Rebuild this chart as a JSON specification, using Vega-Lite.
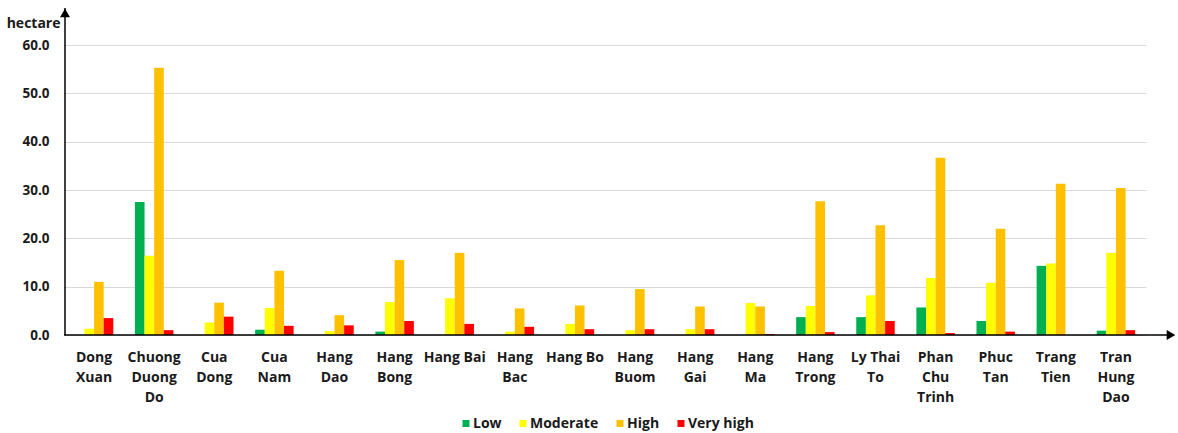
{
  "$schema": "https://vega.github.io/schema/vega-lite/v6.json",
  "autosize": "none",
  "padding": {"left": 64, "top": 8, "right": 32, "bottom": 98},
  "width": 1082,
  "height": 327,
  "background": "#ffffff",
  "config": {
    "font": "Open Sans",
    "view": {"stroke": null},
    "axis": {"labelColor": "#1a1a1a", "titleColor": "#1a1a1a"},
    "legend": {"labelColor": "#1a1a1a"}
  },
  "data": {
    "values": [
      {"ward": "Dong Xuan", "level": "Low", "ha": 0},
      {"ward": "Dong Xuan", "level": "Moderate", "ha": 1.3},
      {"ward": "Dong Xuan", "level": "High", "ha": 11.0},
      {"ward": "Dong Xuan", "level": "Very high", "ha": 3.5},
      {"ward": "Chuong Duong Do", "level": "Low", "ha": 27.5},
      {"ward": "Chuong Duong Do", "level": "Moderate", "ha": 16.4},
      {"ward": "Chuong Duong Do", "level": "High", "ha": 55.3},
      {"ward": "Chuong Duong Do", "level": "Very high", "ha": 1.0},
      {"ward": "Cua Dong", "level": "Low", "ha": 0},
      {"ward": "Cua Dong", "level": "Moderate", "ha": 2.6},
      {"ward": "Cua Dong", "level": "High", "ha": 6.7},
      {"ward": "Cua Dong", "level": "Very high", "ha": 3.8},
      {"ward": "Cua Nam", "level": "Low", "ha": 1.1},
      {"ward": "Cua Nam", "level": "Moderate", "ha": 5.6},
      {"ward": "Cua Nam", "level": "High", "ha": 13.3},
      {"ward": "Cua Nam", "level": "Very high", "ha": 1.9},
      {"ward": "Hang Dao", "level": "Low", "ha": 0},
      {"ward": "Hang Dao", "level": "Moderate", "ha": 0.8},
      {"ward": "Hang Dao", "level": "High", "ha": 4.1},
      {"ward": "Hang Dao", "level": "Very high", "ha": 2.0},
      {"ward": "Hang Bong", "level": "Low", "ha": 0.7},
      {"ward": "Hang Bong", "level": "Moderate", "ha": 6.8},
      {"ward": "Hang Bong", "level": "High", "ha": 15.5},
      {"ward": "Hang Bong", "level": "Very high", "ha": 2.9},
      {"ward": "Hang Bai", "level": "Low", "ha": 0},
      {"ward": "Hang Bai", "level": "Moderate", "ha": 7.6},
      {"ward": "Hang Bai", "level": "High", "ha": 17.0},
      {"ward": "Hang Bai", "level": "Very high", "ha": 2.3},
      {"ward": "Hang Bac", "level": "Low", "ha": 0},
      {"ward": "Hang Bac", "level": "Moderate", "ha": 0.7},
      {"ward": "Hang Bac", "level": "High", "ha": 5.5},
      {"ward": "Hang Bac", "level": "Very high", "ha": 1.7},
      {"ward": "Hang Bo", "level": "Low", "ha": 0},
      {"ward": "Hang Bo", "level": "Moderate", "ha": 2.3},
      {"ward": "Hang Bo", "level": "High", "ha": 6.1},
      {"ward": "Hang Bo", "level": "Very high", "ha": 1.2},
      {"ward": "Hang Buom", "level": "Low", "ha": 0},
      {"ward": "Hang Buom", "level": "Moderate", "ha": 1.0},
      {"ward": "Hang Buom", "level": "High", "ha": 9.5},
      {"ward": "Hang Buom", "level": "Very high", "ha": 1.2},
      {"ward": "Hang Gai", "level": "Low", "ha": 0},
      {"ward": "Hang Gai", "level": "Moderate", "ha": 1.2},
      {"ward": "Hang Gai", "level": "High", "ha": 5.9},
      {"ward": "Hang Gai", "level": "Very high", "ha": 1.2},
      {"ward": "Hang Ma", "level": "Low", "ha": 0},
      {"ward": "Hang Ma", "level": "Moderate", "ha": 6.6},
      {"ward": "Hang Ma", "level": "High", "ha": 5.9},
      {"ward": "Hang Ma", "level": "Very high", "ha": 0.2},
      {"ward": "Hang Trong", "level": "Low", "ha": 3.7},
      {"ward": "Hang Trong", "level": "Moderate", "ha": 6.0},
      {"ward": "Hang Trong", "level": "High", "ha": 27.7},
      {"ward": "Hang Trong", "level": "Very high", "ha": 0.6},
      {"ward": "Ly Thai To", "level": "Low", "ha": 3.7},
      {"ward": "Ly Thai To", "level": "Moderate", "ha": 8.2},
      {"ward": "Ly Thai To", "level": "High", "ha": 22.7},
      {"ward": "Ly Thai To", "level": "Very high", "ha": 2.9},
      {"ward": "Phan Chu Trinh", "level": "Low", "ha": 5.7},
      {"ward": "Phan Chu Trinh", "level": "Moderate", "ha": 11.8},
      {"ward": "Phan Chu Trinh", "level": "High", "ha": 36.7},
      {"ward": "Phan Chu Trinh", "level": "Very high", "ha": 0.4},
      {"ward": "Phuc Tan", "level": "Low", "ha": 2.9},
      {"ward": "Phuc Tan", "level": "Moderate", "ha": 10.8},
      {"ward": "Phuc Tan", "level": "High", "ha": 22.0},
      {"ward": "Phuc Tan", "level": "Very high", "ha": 0.7},
      {"ward": "Trang Tien", "level": "Low", "ha": 14.3},
      {"ward": "Trang Tien", "level": "Moderate", "ha": 14.8},
      {"ward": "Trang Tien", "level": "High", "ha": 31.3},
      {"ward": "Trang Tien", "level": "Very high", "ha": 0},
      {"ward": "Tran Hung Dao", "level": "Low", "ha": 0.9},
      {"ward": "Tran Hung Dao", "level": "Moderate", "ha": 17.0},
      {"ward": "Tran Hung Dao", "level": "High", "ha": 30.4},
      {"ward": "Tran Hung Dao", "level": "Very high", "ha": 1.0}
    ]
  },
  "layer": [
    {
      "mark": {"type": "bar"},
      "encoding": {
        "x": {
          "field": "ward",
          "type": "nominal",
          "sort": null,
          "scale": {"paddingInner": 0.36, "paddingOuter": 0.18},
          "axis": {
            "title": null,
            "labelAngle": 0,
            "ticks": false,
            "domain": false,
            "labelFontSize": 14,
            "labelFontWeight": "bold",
            "labelLineHeight": 20,
            "labelPadding": 15,
            "labelBaseline": "top",
            "labelOverlap": false,
            "labelExpr": "datum.value == 'Hang Bai' || datum.value == 'Hang Bo' ? datum.value : datum.value == 'Ly Thai To' ? ['Ly Thai', 'To'] : split(datum.value, ' ')"
          }
        },
        "xOffset": {
          "field": "level",
          "type": "nominal",
          "scale": {"domain": ["Low", "Moderate", "High", "Very high"]}
        },
        "y": {
          "field": "ha",
          "type": "quantitative",
          "scale": {"domain": [0, 67.66], "nice": false, "zero": true},
          "axis": {
            "values": [0, 10, 20, 30, 40, 50, 60],
            "format": ".1f",
            "domain": false,
            "ticks": false,
            "grid": true,
            "gridColor": "#d9d9d9",
            "gridWidth": 1.2,
            "labelFontSize": 13.5,
            "labelFontWeight": "bold",
            "labelPadding": 15,
            "title": "hectare",
            "titleAngle": 0,
            "titleAlign": "right",
            "titleBaseline": "alphabetic",
            "titleX": -4,
            "titleY": 19.5,
            "titleFontSize": 14,
            "titleFontWeight": "bold"
          }
        },
        "color": {
          "field": "level",
          "type": "nominal",
          "scale": {
            "domain": ["Low", "Moderate", "High", "Very high"],
            "range": ["#00B050", "#FFFF00", "#FFC000", "#FF0000"]
          },
          "legend": {
            "title": null,
            "orient": "none",
            "direction": "horizontal",
            "legendX": 395,
            "legendY": 408.5,
            "symbolType": "square",
            "symbolSize": 49,
            "symbolStrokeWidth": 0,
            "labelFontSize": 14,
            "labelFontWeight": "bold",
            "labelOffset": 0,
            "columnPadding": 14
          }
        }
      }
    },
    {
      "data": {"values": [{}]},
      "mark": {"type": "rule", "color": "#000000", "strokeWidth": 1.5},
      "encoding": {
        "x": {"value": 1},
        "y": {"datum": 0},
        "y2": {"datum": 67.66}
      }
    },
    {
      "data": {"values": [{}]},
      "mark": {"type": "point", "shape": "triangle-up", "size": 100, "filled": true, "opacity": 1, "color": "#000000"},
      "encoding": {
        "x": {"value": 1},
        "y": {"datum": 66.62}
      }
    },
    {
      "data": {"values": [{}]},
      "mark": {"type": "rule", "color": "#000000", "strokeWidth": 1.5, "x": 0, "x2": {"expr": "width + 22"}},
      "encoding": {
        "y": {"datum": 0}
      }
    },
    {
      "data": {"values": [{}]},
      "mark": {"type": "point", "shape": "triangle-right", "size": 100, "filled": true, "opacity": 1, "color": "#000000", "x": {"expr": "width + 25"}},
      "encoding": {
        "y": {"datum": 0}
      }
    }
  ]
}
